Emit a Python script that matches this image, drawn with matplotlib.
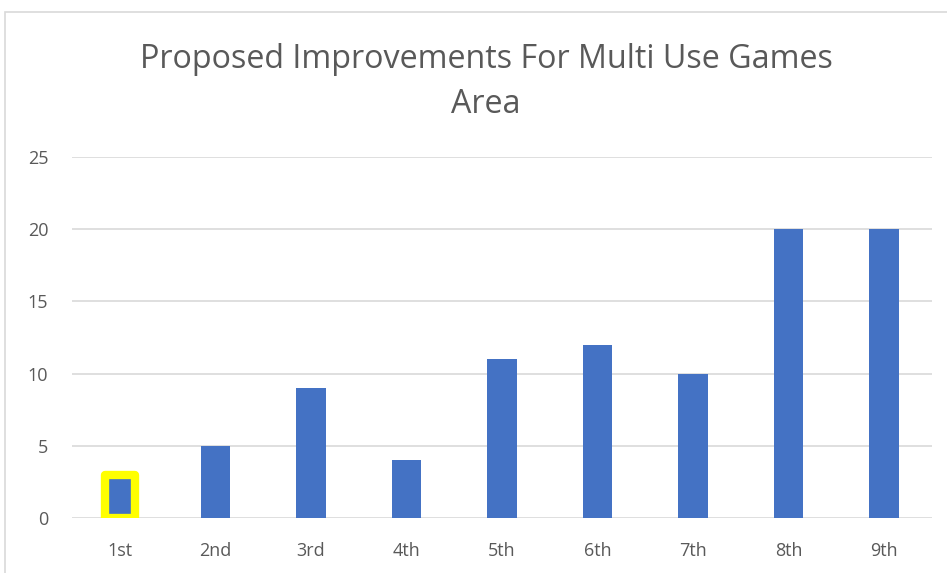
import matplotlib.pyplot as plt
from matplotlib.patches import Rectangle

categories = ['1st', '2nd', '3rd', '4th', '5th', '6th', '7th', '8th', '9th']
values = [3, 5, 9, 4, 11, 12, 10, 20, 20]
highlighted = ['1st']
y_ticks = [0, 5, 10, 15, 20, 25]

W, H = 947, 573
fig = plt.figure(figsize=(W / 100, H / 100), dpi=100)
plt.rcParams['font.family'] = ['Open Sans', 'DejaVu Sans']

# chart area border (runs off the right and bottom edges)
fig.patches.append(Rectangle((5 / W, -0.1), 1.1, 1.1 - 12 / H, transform=fig.transFigure,
                             fill=False, edgecolor='#D9D9D9', linewidth=1.2))

ax = fig.add_axes([72 / W, 1 - 518 / H, (932 - 72) / W, (518 - 157) / H])
x = range(len(categories))
bars = ax.bar(x, values, width=0.31, color='#4472C4', zorder=3)
for b, c in zip(bars, categories):
    if c in highlighted:
        b.set_edgecolor('#FFFF00')
        b.set_linewidth(6)
        b.set_joinstyle('round')

ax.set_xlim(-0.5, len(categories) - 0.5)
ax.set_ylim(0, 25)
ax.set_yticks(y_ticks)
ax.set_xticks(list(x))
ax.set_xticklabels(categories)
ax.yaxis.grid(True, color='#D9D9D9', linewidth=1.2, zorder=0)
for s in ax.spines.values():
    s.set_visible(False)
ax.tick_params(length=0, labelsize=13, labelcolor='#595959')
ax.tick_params(axis='y', pad=17)
ax.tick_params(axis='x', pad=17)

fig.text(486 / W, 1 - 82 / H, 'Proposed Improvements For Multi Use Games\nArea',
         ha='center', va='center', fontsize=23.2, color='#595959', linespacing=1.45)

fig.savefig('out.png', dpi=100)
